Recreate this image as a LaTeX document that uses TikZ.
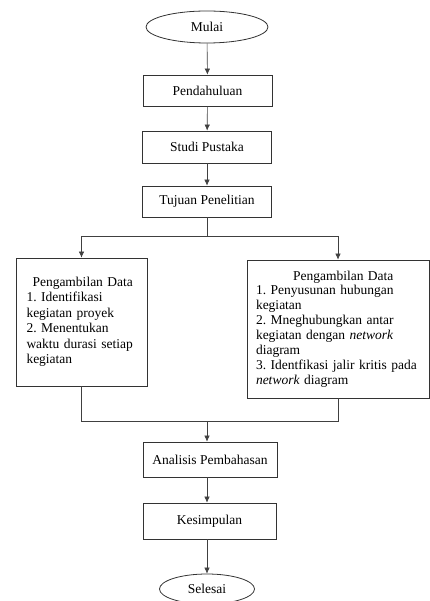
\documentclass[tikz,border=0pt]{standalone}
\usepackage{fontspec}
\setmainfont{Liberation Serif}
\frenchspacing
\usetikzlibrary{arrows.meta,calc,shapes.geometric,positioning}
\tikzset{
    boks/.style={draw=black!80,line width=0.8pt,rectangle,minimum width=129pt,minimum height=32pt},
    terminal/.style={draw=black!80,line width=0.8pt,ellipse,inner sep=0pt},
    garis/.style={draw=black!75,line width=0.6pt},
    panah/.style={garis,-{Latex[length=6pt,width=5.5pt]}}
}

\begin{document}
\begin{tikzpicture}[x=1pt,y=-1pt,font=\fontsize{13.5}{15.5}\selectfont]
    % fix the page size
    \useasboundingbox (0,0) rectangle (430,601);

    % draw the main steps
    \node[terminal,minimum width=122pt,minimum height=32pt] (mulai) at (207,27) {Mulai};
    \node[boks,minimum height=31pt] (pendahuluan) at (207.5,90.5) {Pendahuluan};
    \node[boks] (pustaka) at (207,147) {Studi Pustaka};
    \node[boks,minimum height=31pt] (tujuan) at (207,201.5) {Tujuan Penelitian};

    % the two data boxes
    \node[boks,minimum width=131pt,minimum height=128pt,text width=110pt,align=left,inner xsep=10.5pt] (datakiri) at (81.5,322)
        {\hspace*{6pt}Pengambilan Data\\ 1. Identifikasi\\ kegiatan proyek\\ 2. Menentukan\\ waktu durasi setiap\\ kegiatan};
    \node[boks,minimum width=182pt,minimum height=138pt,text width=164pt,align=left,inner xsep=9pt,font=\fontsize{13.5}{14.9}\selectfont] (datakanan) at (338,329)
        {\hspace*{37pt}Pengambilan Data\\ 1. Penyusunan hubungan\\ kegiatan\\ 2. Mneghubungkan antar\\ kegiatan dengan \textit{network}\\ diagram\\ 3. Identfikasi jalir kritis pada\\ \textit{network} diagram};

    \node[boks,minimum width=134pt,minimum height=35pt] (analisis) at (210,459.5) {Analisis Pembahasan};
    \node[boks,minimum width=133pt,minimum height=36pt] (kesimpulan) at (209.5,521) {Kesimpulan};
    \node[terminal,minimum width=95pt,minimum height=30pt] (selesai) at (207,589) {Selesai};

    % split and join points
    \coordinate (bagi) at (207,236);
    \coordinate (gabung) at (207,421);

    % draw the arrows
    \draw[panah] (mulai) -- (pendahuluan);
    \draw[panah] (pendahuluan) -- (pustaka);
    \draw[panah] (pustaka) -- (tujuan);
    \draw[garis] (tujuan) -- (bagi);
    \draw[panah] (bagi) -| (datakiri);
    \draw[panah] (bagi) -| (datakanan);
    \draw[garis] (datakiri) |- (gabung);
    \draw[garis] (datakanan) |- (gabung);
    \draw[panah] (gabung) -- (gabung |- analisis.north);
    \draw[panah] (analisis.south -| gabung) -- (kesimpulan.north -| gabung);
    \draw[panah] (kesimpulan.south -| gabung) -- (selesai);
\end{tikzpicture}
\end{document}
